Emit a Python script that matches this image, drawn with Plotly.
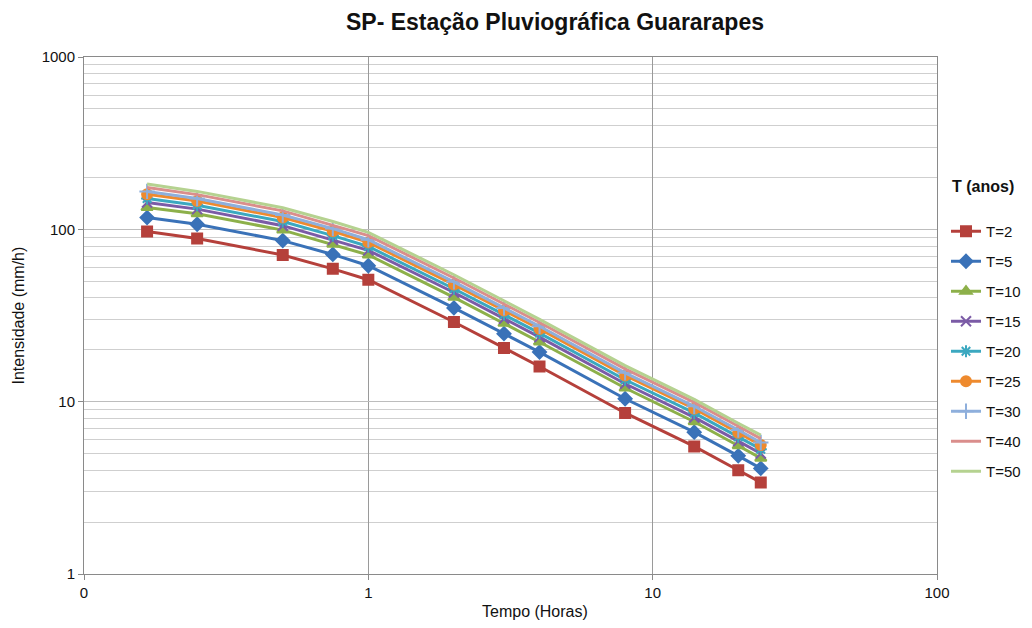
import plotly.graph_objects as go

durations_h = [10/60, 15/60, 30/60, 45/60, 1, 2, 3, 4, 8, 14, 20, 24]

series_names = ["T=2", "T=5", "T=10", "T=15", "T=20", "T=25", "T=30", "T=40", "T=50"]

t2 = [97, 88.5, 71, 59, 51, 29, 20.5, 16, 8.6, 5.5, 4.0, 3.4]
t5 = [117, 107, 86, 71.5, 61.5, 35, 24.8, 19.4, 10.4, 6.65, 4.85, 4.1]
t10 = [134, 123, 99, 82, 71, 40.3, 28.5, 22.2, 12, 7.65, 5.55, 4.7]
t15 = [143, 131, 105, 87, 75.5, 43, 30.3, 23.7, 12.7, 8.1, 5.9, 5.0]
t20 = [151, 138, 111, 92, 79.5, 45.2, 32, 25, 13.4, 8.6, 6.25, 5.3]
t25 = [160, 146, 117, 97.5, 84, 47.8, 33.8, 26.4, 14.2, 9.1, 6.6, 5.6]
t30 = [166, 151, 121, 101, 87, 49.6, 35, 27.4, 14.7, 9.4, 6.85, 5.8]
t40 = [175, 159, 128, 106, 92, 52.2, 36.9, 28.8, 15.5, 9.9, 7.2, 6.1]
t50 = [183, 166, 133.5, 111, 96, 54.5, 38.5, 30, 16.2, 10.3, 7.5, 6.4]

all_series = [t2, t5, t10, t15, t20, t25, t30, t40, t50]

colors = ["#B5403B", "#3A72B8", "#8DB04A", "#7B5BA6", "#3BA8C0",
          "#EE8A2E", "#8EAFDC", "#DA8E8C", "#B5D290"]
symbols = ["square", "diamond", "triangle-up", "x-thin-open", "asterisk-open",
           "circle", "cross-thin-open", None, None]
sizes = [10, 10, 10, 10, 10, 10, 11, 0, 0]

x_tickvals = [0.1, 1, 10, 100]
x_ticktext = ["0", "1", "10", "100"]
y_tickvals = [1, 10, 100, 1000]
y_ticktext = ["1", "10", "100", "1000"]
y_minor = [m * d for d in (1, 10, 100) for m in range(2, 10)]

FONT = "Liberation Sans, Arial, sans-serif"
W, H = 1016, 612
L, R, T, B = 76, 87, 49, 46
PW, PH = W - L - R, H - T - B
YB = H - B  # bottom of plot area in figure pixels

fig = go.Figure()
for i, (name, vals) in enumerate(zip(series_names, all_series)):
    sym = symbols[i]
    if sym is None:
        mode = "lines"
        marker = None
    else:
        mode = "lines+markers"
        marker = dict(symbol=sym, size=sizes[i],
                      color=colors[i], line=dict(color=colors[i], width=2))
    fig.add_trace(go.Scatter(
        x=durations_h, y=vals, name=name, mode=mode,
        line=dict(color=colors[i], width=3),
        marker=marker, legendgroup=name,
    ))

fig.update_layout(
    width=W, height=H,
    margin=dict(l=L, r=R, t=T, b=B, autoexpand=False),
    paper_bgcolor="white", plot_bgcolor="white",
    font=dict(family=FONT, size=15, color="#222222"),
    title=dict(text="<b>SP- Estação Pluviográfica Guararapes</b>",
               x=547 / W, xanchor="center", y=1 - 14 / H, yanchor="middle",
               font=dict(size=23, family=FONT, color="#111111")),
    showlegend=True,
    legend=dict(x=(938 - L) / PW, xanchor="left", y=(YB - 207) / PH, yanchor="top",
                font=dict(size=15, family=FONT, color="#111111"),
                tracegroupgap=7.5, itemwidth=30, bgcolor="rgba(0,0,0,0)"),
    annotations=[
        dict(text="<b>T (anos)</b>", xref="paper", yref="paper",
             x=(975 - L) / PW, y=(YB - 179) / PH, xanchor="center", yanchor="middle",
             showarrow=False, font=dict(size=16, family=FONT, color="#111111")),
        dict(text="Intensidade (mm/h)", xref="paper", yref="paper",
             x=-66 / PW, y=0.5, xanchor="center", yanchor="middle", textangle=-90,
             showarrow=False, font=dict(size=16, family=FONT, color="#111111")),
        dict(text="Tempo (Horas)", xref="paper", yref="paper",
             x=(527 - L) / PW, y=-(603 - YB) / PH, xanchor="center", yanchor="middle",
             showarrow=False, font=dict(size=16, family=FONT, color="#111111")),
    ],
)

fig.update_xaxes(
    type="log", range=[-1, 2], automargin=False,
    tickvals=x_tickvals, ticktext=x_ticktext,
    showgrid=True, gridcolor="#9A9A9A", gridwidth=1,
    showline=True, linecolor="#8A8A8A", linewidth=1, mirror=True,
    ticks="outside", ticklen=5, tickcolor="#8A8A8A",
    tickfont=dict(size=15, color="#111111"),
    zeroline=False,
)
fig.update_yaxes(
    type="log", range=[0, 3], automargin=False,
    tickvals=y_tickvals, ticktext=y_ticktext,
    showgrid=True, gridcolor="#BDBDBD", gridwidth=1,
    minor=dict(tickvals=y_minor, showgrid=True, gridcolor="#CFCFCF", gridwidth=1, ticks=""),
    showline=True, linecolor="#8A8A8A", linewidth=1, mirror=True,
    ticks="outside", ticklen=5, tickcolor="#8A8A8A",
    tickfont=dict(size=15, color="#111111"),
    zeroline=False,
)

fig.write_html("out.html")
